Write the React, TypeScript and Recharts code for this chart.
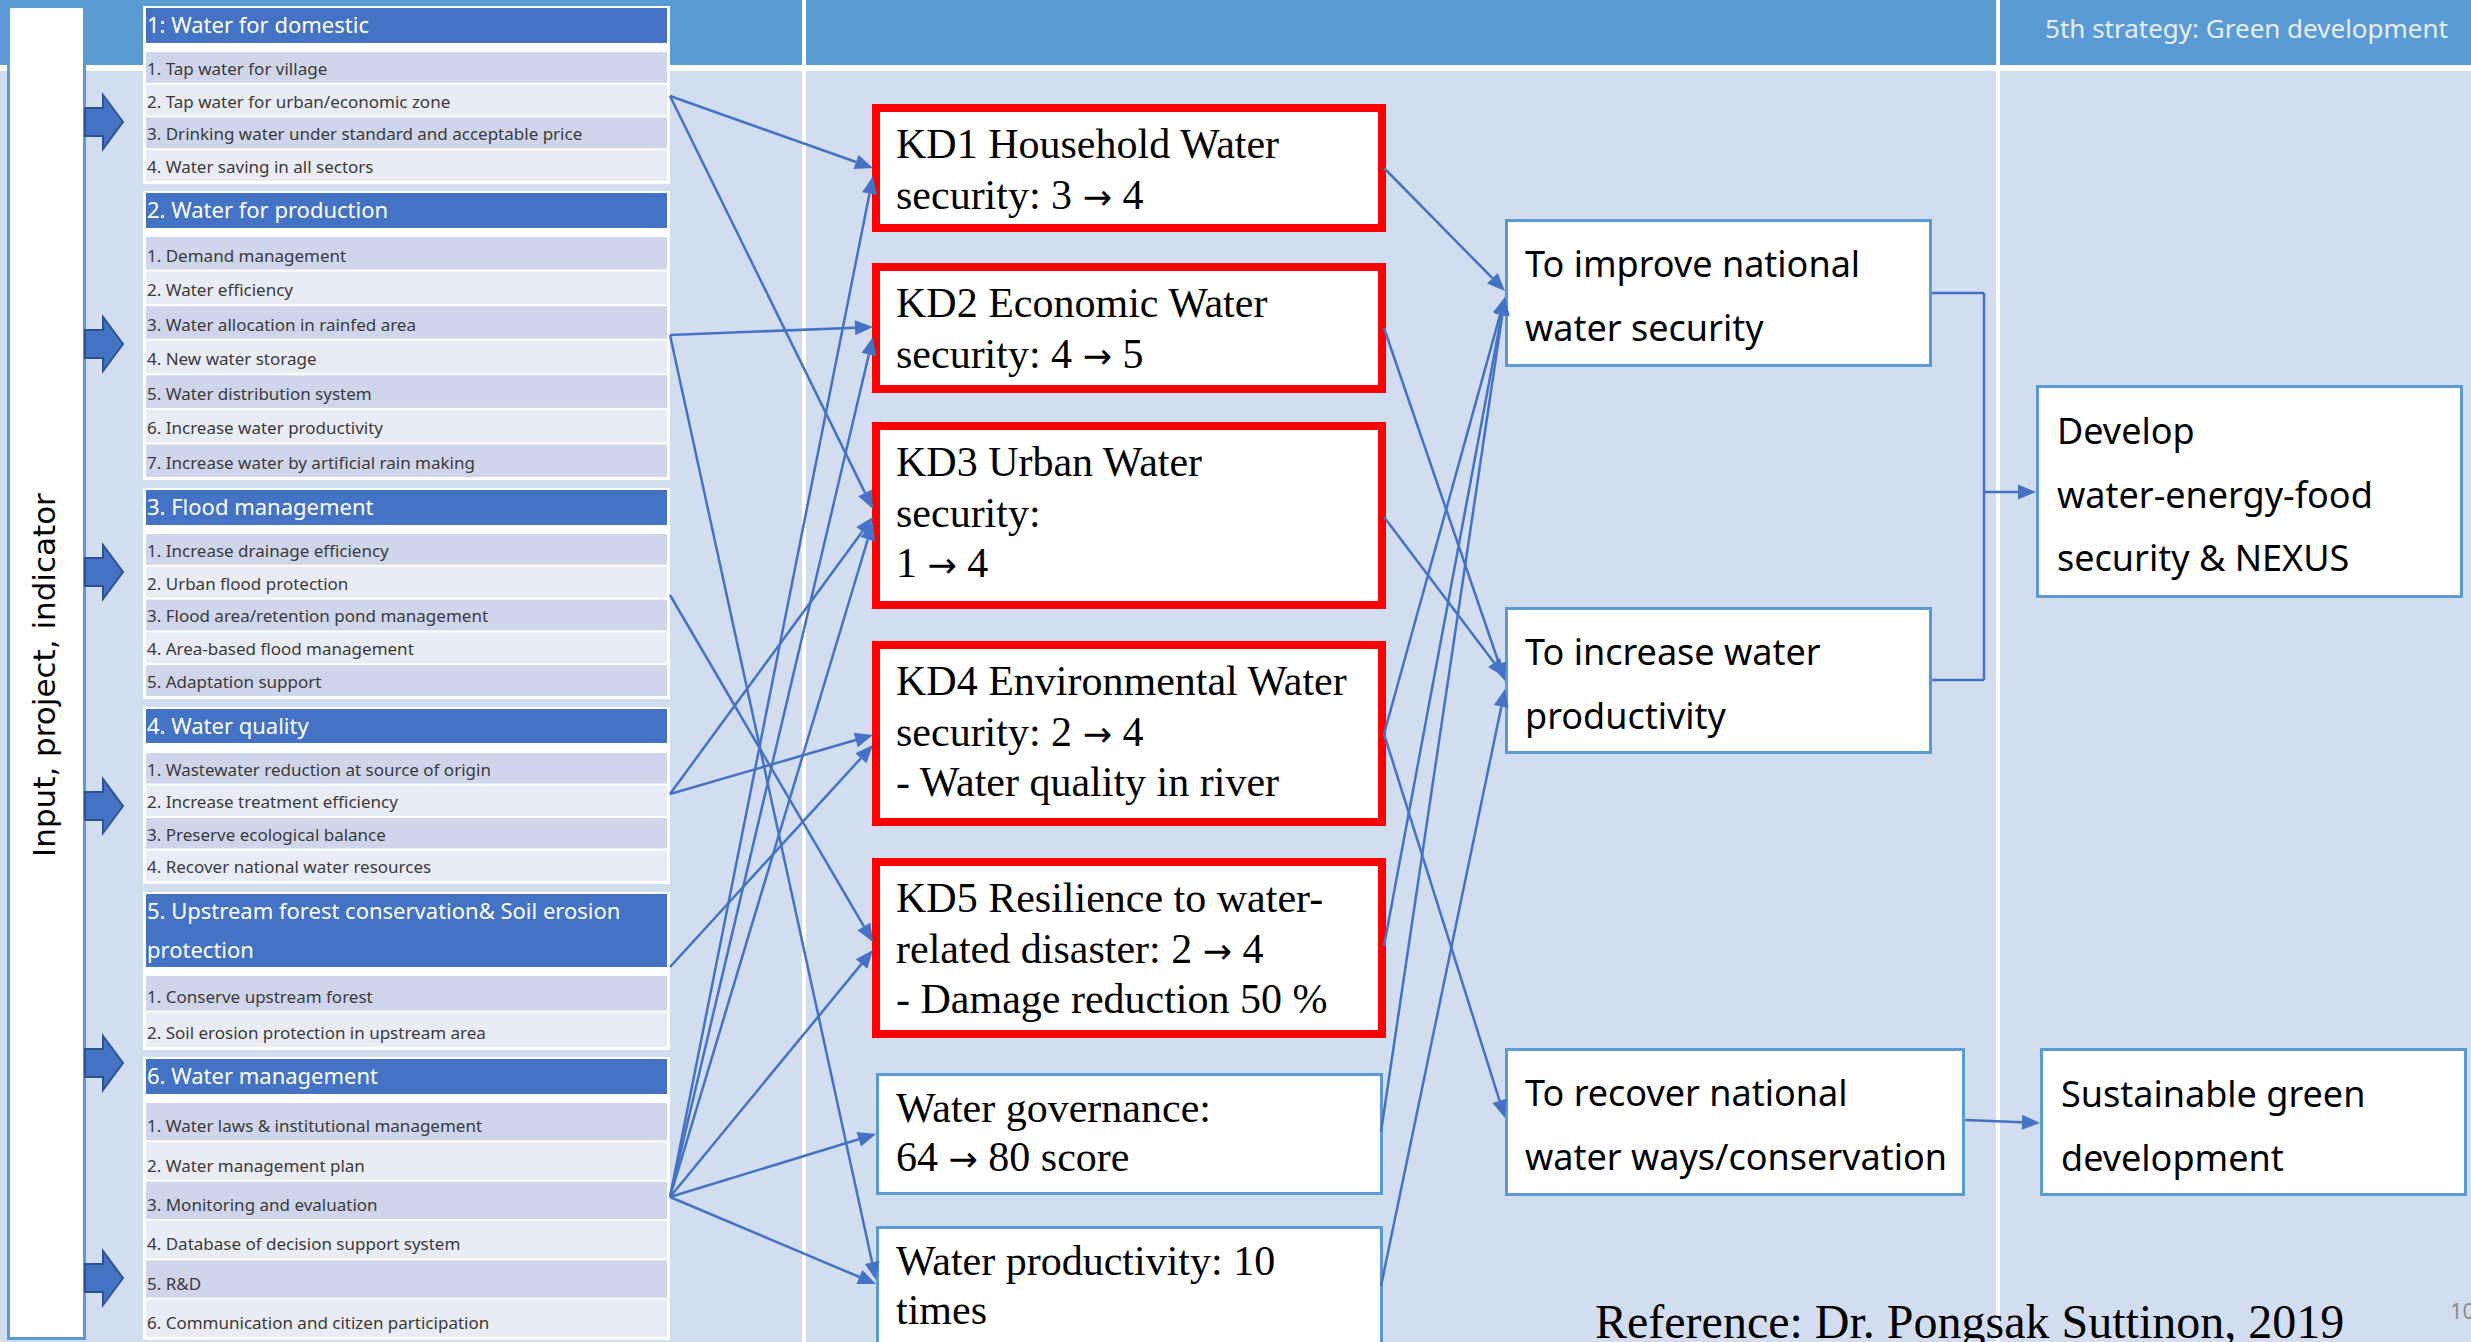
import React from "react";
import { ComposedChart, XAxis, YAxis, ReferenceArea, ReferenceLine } from "recharts";

const W = 2471;
const H = 1342;

const SANS = "'Noto Sans', 'DejaVu Sans', sans-serif";
const SERIF = "'Liberation Serif', 'DejaVu Serif', serif";
const WIDE = "'DejaVu Sans', sans-serif";

const BG = "#d2ddef";
const BAND = "#5b9bd5";
const DARK = "#4472c4";
const ROW_A = "#cfd5ea";
const ROW_B = "#e9ebf5";
const RED = "#ff0000";

// ---- content ----
const sideLabel = "Input, project, indicator";
const bandLabel = "5th strategy: Green development";
const referenceLabel = "Reference: Dr. Pongsak Suttinon, 2019";
const pageNo = "10";

const groupTitles = [
  ["1: Water for domestic"],
  ["2. Water for production"],
  ["3. Flood management"],
  ["4. Water quality"],
  ["5. Upstream forest conservation& Soil erosion", "protection"],
  ["6. Water management"],
];
const domesticItems = [
  "1. Tap water for village",
  "2. Tap water for urban/economic zone",
  "3. Drinking water under standard and acceptable price",
  "4. Water saving in all sectors",
];
const productionItems = [
  "1. Demand management",
  "2. Water efficiency",
  "3. Water allocation in rainfed area",
  "4. New water storage",
  "5. Water distribution system",
  "6. Increase water productivity",
  "7. Increase water by artificial rain making",
];
const floodItems = [
  "1. Increase drainage efficiency",
  "2. Urban flood protection",
  "3. Flood area/retention pond management",
  "4. Area-based flood management",
  "5. Adaptation support",
];
const qualityItems = [
  "1. Wastewater reduction at source of origin",
  "2. Increase treatment efficiency",
  "3. Preserve ecological balance",
  "4. Recover national water resources",
];
const forestItems = ["1. Conserve upstream forest", "2. Soil erosion protection in upstream area"];
const managementItems = [
  "1. Water laws & institutional management",
  "2. Water management plan",
  "3. Monitoring and evaluation",
  "4. Database of decision support system",
  "5. R&D",
  "6. Communication and citizen participation",
];
const groupItems = [domesticItems, productionItems, floodItems, qualityItems, forestItems, managementItems];

const kdIds = ["KD1", "KD2", "KD3", "KD4", "KD5"];
const kdLines = [
  ["KD1 Household Water", "security: 3 → 4"],
  ["KD2 Economic Water", "security: 4 → 5"],
  ["KD3 Urban Water", "security:", "1 → 4"],
  ["KD4 Environmental Water", "security: 2 → 4", "- Water quality in river"],
  ["KD5 Resilience to water-", "related disaster: 2 → 4", "- Damage reduction 50 %"],
];
const indicatorIds = ["WG", "WP"];
const indicatorLines = [
  ["Water governance:", "64 → 80 score"],
  ["Water productivity: 10", "times"],
];
const goalIds = ["A", "B", "C"];
const goalLines = [
  ["To improve national", "water security"],
  ["To increase water", "productivity"],
  ["To recover national", "water ways/conservation"],
];
const outcomeIds = ["D", "E"];
const outcomeLines = [
  ["Develop", "water-energy-food", "security & NEXUS"],
  ["Sustainable green", "development"],
];

// which input feeds which indicator box
const inputLinks = [
  ["tap", "KD1"], ["tap", "KD3"], ["alloc", "KD2"], ["alloc", "WP"], ["flood", "KD5"],
  ["quality", "KD3"], ["quality", "KD4"], ["forest", "KD4"],
  ["manage", "KD1"], ["manage", "KD2"], ["manage", "KD3"], ["manage", "KD5"], ["manage", "WG"], ["manage", "WP"],
];
// which indicator feeds which goal
const goalLinks = [
  ["KD1", "A"], ["KD2", "B"], ["KD3", "B"], ["KD4", "A"], ["KD4", "C"], ["KD5", "A"], ["WG", "A"], ["WP", "B"],
];

// ---- layout (page pixels) ----
const TABLE_L = 143;
const TABLE_R = 670;
const groupBox = [
  { top: 8, head: 35, rowsTop: 51, rowsBottom: 182 },
  { top: 193, head: 35, rowsTop: 236, rowsBottom: 478 },
  { top: 490, head: 35, rowsTop: 533, rowsBottom: 697 },
  { top: 709, head: 34, rowsTop: 752, rowsBottom: 882 },
  { top: 894, head: 73, rowsTop: 975, rowsBottom: 1048 },
  { top: 1059, head: 35, rowsTop: 1102, rowsBottom: 1338 },
];
const blockArrowY = [122, 344, 572, 806, 1063, 1278];
const boxes: Record<string, number[]> = {
  KD1: [872, 1386, 104, 232],
  KD2: [872, 1386, 263, 393],
  KD3: [872, 1386, 422, 609],
  KD4: [872, 1386, 641, 826],
  KD5: [872, 1386, 858, 1038],
  WG: [876, 1383, 1073, 1195],
  WP: [876, 1383, 1226, 1362],
  A: [1505, 1932, 219, 367],
  B: [1505, 1932, 607, 754],
  C: [1505, 1965, 1048, 1196],
  D: [2036, 2463, 385, 598],
  E: [2040, 2467, 1048, 1196],
};
const sourceY: Record<string, number> = { tap: 96, alloc: 335, flood: 595, quality: 794, forest: 967, manage: 1197 };
const inputArriveY = [168, 509, 327, 1280, 942, 517, 735, 745, 176, 337, 522, 950, 1134, 1284];
const leaveY: Record<string, number> = { KD1: 168, KD2: 328, KD3: 517, KD4: 734, KD5: 946, WG: 1132, WP: 1286 };
const goalArriveY = [291, 681, 677, 297, 1118, 297, 297, 689];

const frame = [{ x: 0, y: 0 }, { x: W, y: H }];

const fillShape = (fill: string) => (p: any) => (
  <rect x={p.x} y={p.y} width={p.width} height={p.height} fill={fill} />
);

// the "→" in the indicator boxes is a heavier glyph than the serif one
const withArrow = (t: string, serif: boolean) => {
  if (!serif || !t.includes("→")) return t;
  const parts = t.split("→");
  return parts.map((s, i) => (
    <React.Fragment key={i}>
      {s}
      {i < parts.length - 1 && (
        <tspan fontFamily={WIDE} fontSize={35}>
          →
        </tspan>
      )}
    </React.Fragment>
  ));
};

const boxShape = (o: {
  fill: string; stroke?: string; sw?: number; lines?: string[]; padX?: number; base?: number;
  lh?: number; size?: number; family?: string; color?: string;
}) => (p: any) => {
  const sw = o.sw || 0;
  const serif = o.family === SERIF;
  return (
    <g>
      <rect
        x={p.x + sw / 2}
        y={p.y + sw / 2}
        width={p.width - sw}
        height={p.height - sw}
        fill={o.fill}
        stroke={o.stroke || "none"}
        strokeWidth={sw}
      />
      {(o.lines || []).map((t, i) => (
        <text
          key={i}
          x={p.x + (o.padX || 0)}
          y={p.y + (o.base || 0) + i * (o.lh || 0)}
          fontSize={o.size}
          fontFamily={o.family}
          fill={o.color}
        >
          {withArrow(t, serif)}
        </text>
      ))}
    </g>
  );
};

const blockArrow = (p: any) => {
  const cy = p.y + p.height / 2;
  const s = 14;
  const n = p.x + 18;
  const pts = [
    [p.x, cy - s], [n, cy - s], [n, p.y], [p.x + p.width, cy], [n, p.y + p.height], [n, cy + s], [p.x, cy + s],
  ].map((q) => q.join(",")).join(" ");
  return <polygon points={pts} fill={DARK} stroke="#2f528f" strokeWidth={2} />;
};

const arrowShape = (head: boolean) => (p: any) => {
  const { x1, y1, x2, y2 } = p;
  const a = Math.atan2(y2 - y1, x2 - x1);
  const L = 18;
  const hw = 7.5;
  const bx = x2 - L * Math.cos(a);
  const by = y2 - L * Math.sin(a);
  return (
    <g>
      <line x1={x1} y1={y1} x2={head ? bx : x2} y2={head ? by : y2} stroke={DARK} strokeWidth={2.5} />
      {head && (
        <polygon
          points={`${x2},${y2} ${bx - hw * Math.sin(a)},${by + hw * Math.cos(a)} ${bx + hw * Math.sin(a)},${by - hw * Math.cos(a)}`}
          fill={DARK}
        />
      )}
    </g>
  );
};

const Seg = (k: string, a: number[], b: number[], head = true) => (
  <ReferenceLine
    key={k}
    segment={[{ x: a[0], y: a[1] }, { x: b[0], y: b[1] }]}
    ifOverflow="visible"
    shape={arrowShape(head)}
  />
);

const Area = (k: string, x1: number, x2: number, y1: number, y2: number, shape: any) => (
  <ReferenceArea key={k} x1={x1} x2={x2} y1={y1} y2={y2} ifOverflow="visible" shape={shape} />
);

export default function App() {
  const els: React.ReactNode[] = [];

  // background, title band, white separators
  els.push(Area("bg", 0, W, 0, H, fillShape(BG)));
  els.push(
    Area("band", 0, W, 0, 65, (p: any) => (
      <g>
        <rect x={p.x} y={p.y} width={p.width} height={p.height} fill={BAND} />
        <text x={p.x + 2448} y={p.y + 38} fontSize={26} fontFamily={SANS} fill="#e8eef7" textAnchor="end">
          {bandLabel}
        </text>
      </g>
    ))
  );
  els.push(Area("sepH", 0, W, 65, 71, fillShape("#ffffff")));
  els.push(Area("sepV1", 802, 806, 0, H, fillShape("#ffffff")));
  els.push(Area("sepV2", 1996, 2000, 0, H, fillShape("#ffffff")));

  // side panel
  els.push(
    Area("side", 7, 86, 5, 1340, (p: any) => (
      <g>
        <rect x={p.x + 1.5} y={p.y + 1.5} width={p.width - 3} height={p.height - 3} fill="#ffffff" stroke={BAND} strokeWidth={3} />
        <text
          x={p.x + 48}
          y={p.y + 670}
          fontSize={31}
          fontFamily={WIDE}
          fill="#000"
          textAnchor="middle"
          transform={`rotate(-90, ${p.x + 48}, ${p.y + 670})`}
        >
          {sideLabel}
        </text>
      </g>
    ))
  );

  blockArrowY.forEach((cy, i) => els.push(Area(`ba${i}`, 85, 123, cy - 27, cy + 27, blockArrow)));

  // input table
  groupBox.forEach((g, gi) => {
    els.push(Area(`gf${gi}`, TABLE_L, TABLE_R, g.top - 2, g.rowsBottom + 2, fillShape("#ffffff")));
    els.push(
      Area(
        `gh${gi}`, TABLE_L + 3, TABLE_R - 3, g.top, g.top + g.head,
        boxShape({ fill: DARK, lines: groupTitles[gi], padX: 1, base: 25, lh: 39, size: 22, family: SANS, color: "#ffffff" })
      )
    );
    const items = groupItems[gi];
    const rh = (g.rowsBottom - g.rowsTop) / items.length;
    items.forEach((t, ri) => {
      const y1 = g.rowsTop + ri * rh;
      els.push(
        Area(
          `gr${gi}-${ri}`, TABLE_L + 3, TABLE_R - 3, y1 + 1, y1 + rh - 1,
          boxShape({ fill: ri % 2 === 0 ? ROW_A : ROW_B, lines: [t], padX: 1, base: rh - 10, size: 17, family: SANS, color: "#3a3a3a" })
        )
      );
    });
  });

  // indicator boxes
  kdIds.forEach((id, i) => {
    const b = boxes[id];
    els.push(
      Area(id, b[0], b[1], b[2], b[3],
        boxShape({ fill: "#ffffff", stroke: RED, sw: 8, lines: kdLines[i], padX: 24, base: 54, lh: 50.5, size: 42, family: SERIF, color: "#000" }))
    );
  });
  indicatorIds.forEach((id, i) => {
    const b = boxes[id];
    els.push(
      Area(id, b[0], b[1], b[2], b[3],
        boxShape({ fill: "#ffffff", stroke: BAND, sw: 3, lines: indicatorLines[i], padX: 20, base: 49, lh: 49, size: 42, family: SERIF, color: "#000" }))
    );
  });
  goalIds.forEach((id, i) => {
    const b = boxes[id];
    els.push(
      Area(id, b[0], b[1], b[2], b[3],
        boxShape({ fill: "#ffffff", stroke: BAND, sw: 3, lines: goalLines[i], padX: 20, base: 58, lh: 64, size: 36, family: SANS, color: "#000" }))
    );
  });
  outcomeIds.forEach((id, i) => {
    const b = boxes[id];
    els.push(
      Area(id, b[0], b[1], b[2], b[3],
        boxShape({ fill: "#ffffff", stroke: BAND, sw: 3, lines: outcomeLines[i], padX: 21, base: 59, lh: 63.5, size: 36, family: SANS, color: "#000" }))
    );
  });

  // connectors
  inputLinks.forEach(([s, t], i) => {
    const tx = boxes[t][0] + (t.startsWith("KD") ? 1 : 0);
    els.push(Seg(`in${i}`, [TABLE_R, sourceY[s]], [tx, inputArriveY[i]]));
  });
  goalLinks.forEach(([s, t], i) => {
    els.push(Seg(`go${i}`, [boxes[s][1] - 2, leaveY[s]], [boxes[t][0], goalArriveY[i]]));
  });
  els.push(Seg("br1", [1932, 293], [1984, 293], false));
  els.push(Seg("br2", [1984, 293], [1984, 680], false));
  els.push(Seg("br3", [1984, 680], [1932, 680], false));
  els.push(Seg("br4", [1984, 492], [2036, 492]));
  els.push(Seg("ce", [1965, 1120], [2040, 1123]));

  // footer text (cut by the page edge, as in the slide)
  els.push(
    Area("ref", 1590, 2360, 1290, 1342, (p: any) => (
      <g>
        <text x={p.x + 5} y={p.y + 48} fontSize={48} fontFamily={SERIF} fill="#000">{referenceLabel}</text>
      </g>
    ))
  );
  els.push(
    Area("pg", 2440, W, 1295, 1330, (p: any) => (
      <text x={p.x + 10} y={p.y + 24} fontSize={22} fontFamily={SANS} fill="#8c8c8c">{pageNo}</text>
    ))
  );

  return (
    <div style={{ position: "absolute", left: 0, top: 0, width: W, height: H, overflow: "hidden" }}>
      <ComposedChart width={W} height={H} data={frame} margin={{ top: 0, right: 0, bottom: 0, left: 0 }}>
        <XAxis type="number" dataKey="x" domain={[0, W]} hide allowDataOverflow />
        <YAxis type="number" dataKey="y" domain={[0, H]} reversed hide allowDataOverflow />
        {els}
      </ComposedChart>
    </div>
  );
}
